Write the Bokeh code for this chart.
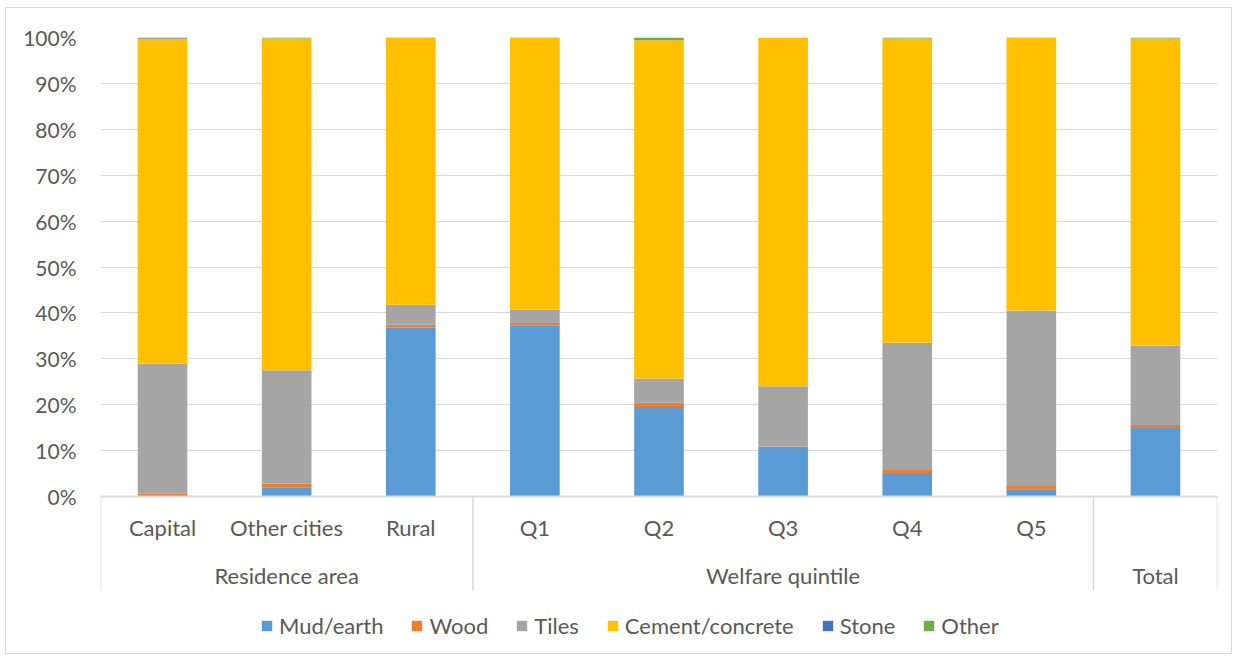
from bokeh.plotting import figure
from bokeh.models import (FactorRange, FixedTicker, PrintfTickFormatter, Legend, LegendItem,
                          ColumnDataSource, Range1d)
from bokeh.core.properties import value
from bokeh.embed import file_html
from bokeh.resources import INLINE

# ---------------- data ----------------
categories = ["Capital", "Other cities", "Rural", "Q1", "Q2", "Q3", "Q4", "Q5", "Total"]
group_names = ["Residence area", "Welfare quintile", "Total"]
group_members = [["Capital", "Other cities", "Rural"],
                 ["Q1", "Q2", "Q3", "Q4", "Q5"],
                 ["Total"]]
sub_labels = ["Capital", "Other cities", "Rural", "Q1", "Q2", "Q3", "Q4", "Q5", ""]

series_names = ["Mud/earth", "Wood", "Tiles", "Cement/concrete", "Stone", "Other"]
mud = [0.0, 2.0, 36.8, 37.2, 19.5, 10.8, 5.1, 1.6, 14.9]
wood = [0.6, 0.8, 0.6, 0.6, 0.9, 0.1, 0.7, 0.7, 0.7]
tiles = [28.4, 24.7, 4.4, 2.9, 5.3, 13.1, 27.7, 38.2, 17.3]
cement = [70.8, 72.3, 58.1, 59.2, 73.7, 76.0, 66.3, 59.4, 66.9]
stone = [0.2, 0.0, 0.0, 0.0, 0.0, 0.0, 0.0, 0.0, 0.0]
other = [0.0, 0.2, 0.1, 0.1, 0.6, 0.0, 0.2, 0.1, 0.2]
y_ticks = [0, 10, 20, 30, 40, 50, 60, 70, 80, 90, 100]

colors = ["#5B9BD5", "#ED7D31", "#A5A5A5", "#FFC000", "#4472C4", "#70AD47"]
FONT = "Lato"
TXT = "#595959"
GRID = "#D9D9D9"

# ---------------- figure ----------------
PX_PER_UNIT = 4.59
BOTTOM = -(647 - 29 - 100 * PX_PER_UNIT) / PX_PER_UNIT  # frame extends to canvas bottom

p = figure(width=1227, height=647, x_range=FactorRange(factors=categories, range_padding=0,
                                                      factor_padding=0),
           y_range=Range1d(BOTTOM, 100), output_backend="svg", toolbar_location=None,
           min_border_left=94, min_border_right=16, min_border_top=29, min_border_bottom=0,
           styles={"border": "1px solid #D9D9D9"}, margin=(7, 0, 0, 5))
p.outline_line_color = None
p.xaxis.visible = False
p.xgrid.visible = False

p.yaxis.ticker = FixedTicker(ticks=y_ticks)
p.yaxis.formatter = PrintfTickFormatter(format="%d%%")
p.yaxis.axis_line_color = None
p.yaxis.major_tick_line_color = None
p.yaxis.minor_tick_line_color = None
p.yaxis.major_label_standoff = 18
p.yaxis.major_label_text_font = FONT
p.yaxis.major_label_text_font_size = "21px"
p.yaxis.major_label_text_color = TXT
p.ygrid.ticker = FixedTicker(ticks=y_ticks)
p.ygrid.grid_line_color = GRID
p.ygrid.grid_line_width = 1

source = ColumnDataSource(dict(cat=categories, mud=mud, wood=wood, tiles=tiles,
                               cement=cement, stone=stone, other=other))
keys = ["mud", "wood", "tiles", "cement", "stone", "other"]
renderers = p.vbar_stack(keys, x="cat", width=0.4, color=colors, source=source,
                         line_color=None)

# category axis decorations (below 0 inside the frame)
sep_x = [(group_members[0][0], -0.5)] + [(g[-1], 0.5) for g in group_members]
p.segment(x0=sep_x, x1=sep_x, y0=[0] * len(sep_x), y1=[-(590 - 496) / PX_PER_UNIT] * len(sep_x),
          line_color=GRID, line_width=1.5)
p.segment(x0=[(categories[0], -0.5)], x1=[(categories[-1], 0.5)], y0=[0], y1=[0],
          line_color=GRID, line_width=2)

p.text(x=categories, y=[-(527 - 496) / PX_PER_UNIT] * len(categories), text=sub_labels,
       text_font=value(FONT), text_font_size="22px", text_color=TXT,
       text_align="center", text_baseline="middle")
mid = [g[len(g) // 2] for g in group_members]
p.text(x=mid, y=[-(575 - 496) / PX_PER_UNIT] * len(mid), text=group_names,
       text_font=value(FONT), text_font_size="22px", text_color=TXT,
       text_align="center", text_baseline="middle")

legend = Legend(items=[LegendItem(label=n, renderers=[r]) for n, r in zip(series_names, renderers)],
                orientation="horizontal", location=(160, 16), glyph_width=13, glyph_height=13,
                label_standoff=6, spacing=27, padding=0, margin=0, border_line_color=None,
                background_fill_alpha=0, label_text_font=FONT, label_text_font_size="22px",
                label_text_color=TXT, label_height=24)
p.add_layout(legend)

open("out.html", "w").write(file_html(p, INLINE))
